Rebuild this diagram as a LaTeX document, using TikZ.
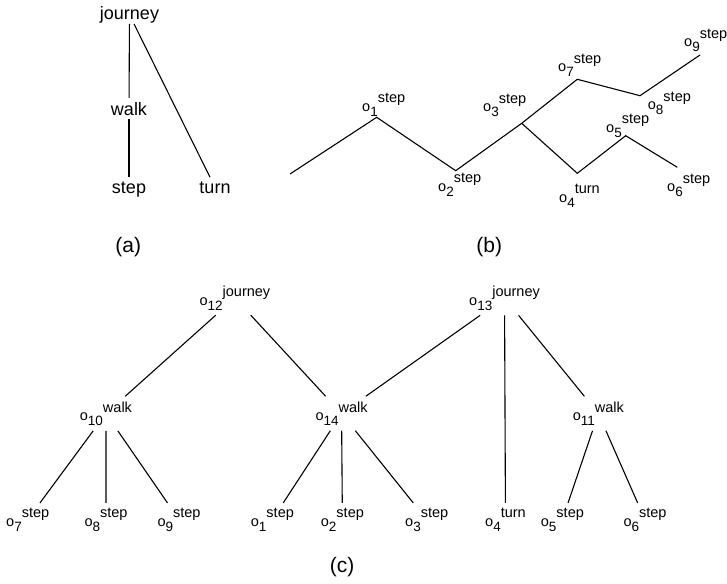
\documentclass[tikz,border=0pt]{standalone}
\usepackage{fontspec}
\setmainfont{Liberation Sans}
% object label: o, lowered index, raised type
\newcommand{\obj}[2]{o\raisebox{-5pt}{\fontsize{13.5}{13.5}\selectfont #1}\raisebox{8.5pt}{\fontsize{14.5}{14.5}\selectfont #2}}
\tikzset{
  edge/.style={line width=1.1pt, black},
  word/.style={font=\fontsize{18}{18}\selectfont, inner xsep=0pt, inner ysep=4pt, anchor=base},
  objlbl/.style={font=\fontsize{14.5}{14.5}\selectfont, inner sep=5pt, anchor=base west},
  caption/.style={font=\fontsize{21}{21}\selectfont, anchor=base},
}
\begin{document}
\begin{tikzpicture}[x=1pt, y=-1pt]
\useasboundingbox (0,0) rectangle (727,583);

% (a) type hierarchy
\node[word, inner ysep=0.5pt] (aj) at (129.5,19.5) {journey};
\node[word] (aw) at (129,115) {walk};
\node[word] (as) at (129,193) {step};
\node[word] (at) at (215,193) {turn};
\draw[edge] (aj) -- (aw);
\draw[edge] (aw) -- (as);
\draw[edge] (aj) -- (at);
\node[caption] (capa) at (128.3,252.3) {(a)};

% (b) trajectory of objects
\coordinate (s0) at (290,174);
\coordinate (v1) at (376.7,117.3);
\coordinate (v2) at (455.7,170.7);
\coordinate (v3) at (521.7,123.3);
\coordinate (v7) at (577.3,79.3);
\coordinate (v8) at (640,95.7);
\coordinate (v9) at (700,55);
\coordinate (v4) at (577.3,173.3);
\coordinate (v5) at (625.7,135.7);
\coordinate (v6) at (677.3,167.3);
\draw[edge] (s0) -- (v1) -- (v2) -- (v3) -- (v7) -- (v8) -- (v9);
\draw[edge] (v3) -- (v4) -- (v5) -- (v6);
\node[objlbl] (b1) at (357,111) {\obj{1}{step}};
\node[objlbl] (b2) at (433,191) {\obj{2}{step}};
\node[objlbl] (b3) at (478,111.5) {\obj{3}{step}};
\node[objlbl] (b7) at (553,72) {\obj{7}{step}};
\node[objlbl] (b9) at (679,47) {\obj{9}{step}};
\node[objlbl] (b8) at (642.7,110) {\obj{8}{step}};
\node[objlbl] (b5) at (601,132) {\obj{5}{step}};
\node[objlbl] (b4) at (554,202) {\obj{4}{turn}};
\node[objlbl] (b6) at (662,191.5) {\obj{6}{step}};
\node[caption] (capb) at (489.2,252.3) {(b)};

% (c) composed objects
\node[objlbl] (c12) at (194.4,305) {\obj{12}{journey}};
\node[objlbl] (c13) at (464,305) {\obj{13}{journey}};
\node[objlbl] (c10) at (74.7,420.5) {\obj{10}{walk}};
\node[objlbl] (c14) at (310.3,420.5) {\obj{14}{walk}};
\node[objlbl] (c11) at (567.6,420.5) {\obj{11}{walk}};
\node[objlbl] (c7) at (1,526) {\obj{7}{step}};
\node[objlbl] (c8) at (79.3,526) {\obj{8}{step}};
\node[objlbl] (c9) at (152.3,526) {\obj{9}{step}};
\node[objlbl] (c1) at (245.7,526) {\obj{1}{step}};
\node[objlbl] (c2) at (315.7,526) {\obj{2}{step}};
\node[objlbl] (c3) at (400,526) {\obj{3}{step}};
\node[objlbl] (c4) at (480,526) {\obj{4}{turn}};
\node[objlbl] (c5) at (535.7,526) {\obj{5}{step}};
\node[objlbl] (c6) at (618.3,526) {\obj{6}{step}};
\draw[edge] (c12) -- (c10);
\draw[edge] (c12) -- (c14);
\draw[edge] (c13) -- (c14);
\draw[edge] (c13) -- (c4);
\draw[edge] (c13) -- (c11);
\draw[edge] (c10) -- (c7);
\draw[edge] (c10) -- (c8);
\draw[edge] (c10) -- (c9);
\draw[edge] (c14) -- (c1);
\draw[edge] (c14) -- (c2);
\draw[edge] (c14) -- (c3);
\draw[edge] (c11) -- (c5);
\draw[edge] (c11) -- (c6);
\node[caption] (capc) at (342,572) {(c)};
\end{tikzpicture}
\end{document}
